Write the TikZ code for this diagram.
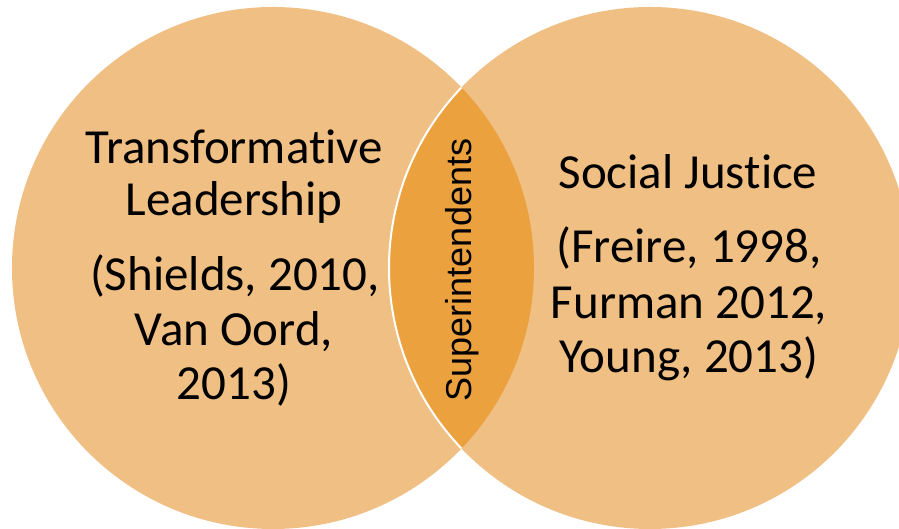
\documentclass[tikz,border=0pt]{standalone}
\usepackage{fontspec}
\setmainfont{Carlito}[RawFeature={-liga;-clig;-dlig;-calt}]
\newfontfamily\lensfont{Liberation Sans}
\definecolor{circlefill}{RGB}{240,191,132}
\definecolor{lensfill}{RGB}{234,161,62}
\begin{document}
\begin{tikzpicture}[x=1pt,y=1pt,
  setcircle/.style={fill=circlefill},
  bigtext/.style={anchor=base,inner sep=0pt,font=\fontsize{49}{55}\selectfont,text=black},
  lenstext/.style={rotate=90,inner sep=0pt,font=\lensfont\fontsize{36}{40}\selectfont,text=black}]
\useasboundingbox (0,0) rectangle (899,529);
\clip (0,0) rectangle (899,529);
% the two sets
\coordinate (cl) at (273,261);
\coordinate (cr) at (650,261);
\fill[setcircle] (cl) circle[radius=261];
\fill[setcircle] (cr) circle[radius=261];
% overlap of the two sets
\begin{scope}
  \clip (cl) circle[radius=261];
  \fill[lensfill] (cr) circle[radius=261];
  \draw[white,line width=2pt] (cr) circle[radius=261];
\end{scope}
% left set
\node[bigtext] (l1) at (234,529-164) {Transformat\kern0pt ive};
\node[bigtext] (l2) at (234,529-216) {Leadership};
\node[bigtext] (l3) at (235,529-291) {(Shields, 2010,};
\node[bigtext] (l4) at (234,529-346) {Van Oord,};
\node[bigtext] (l5) at (234,529-400) {2013)};
% right set
\node[bigtext] (r1) at (688,529-189) {Social Just\kern0pt ice};
\node[bigtext] (r2) at (689,529-263) {(Freire, 1998,};
\node[bigtext] (r3) at (689,529-319) {Furman 2012,};
\node[bigtext] (r4) at (689,529-373) {Young, 2013)};
% overlap label
\node[lenstext] (mid) at (462,529-270) {Superintendents};
\end{tikzpicture}
\end{document}
